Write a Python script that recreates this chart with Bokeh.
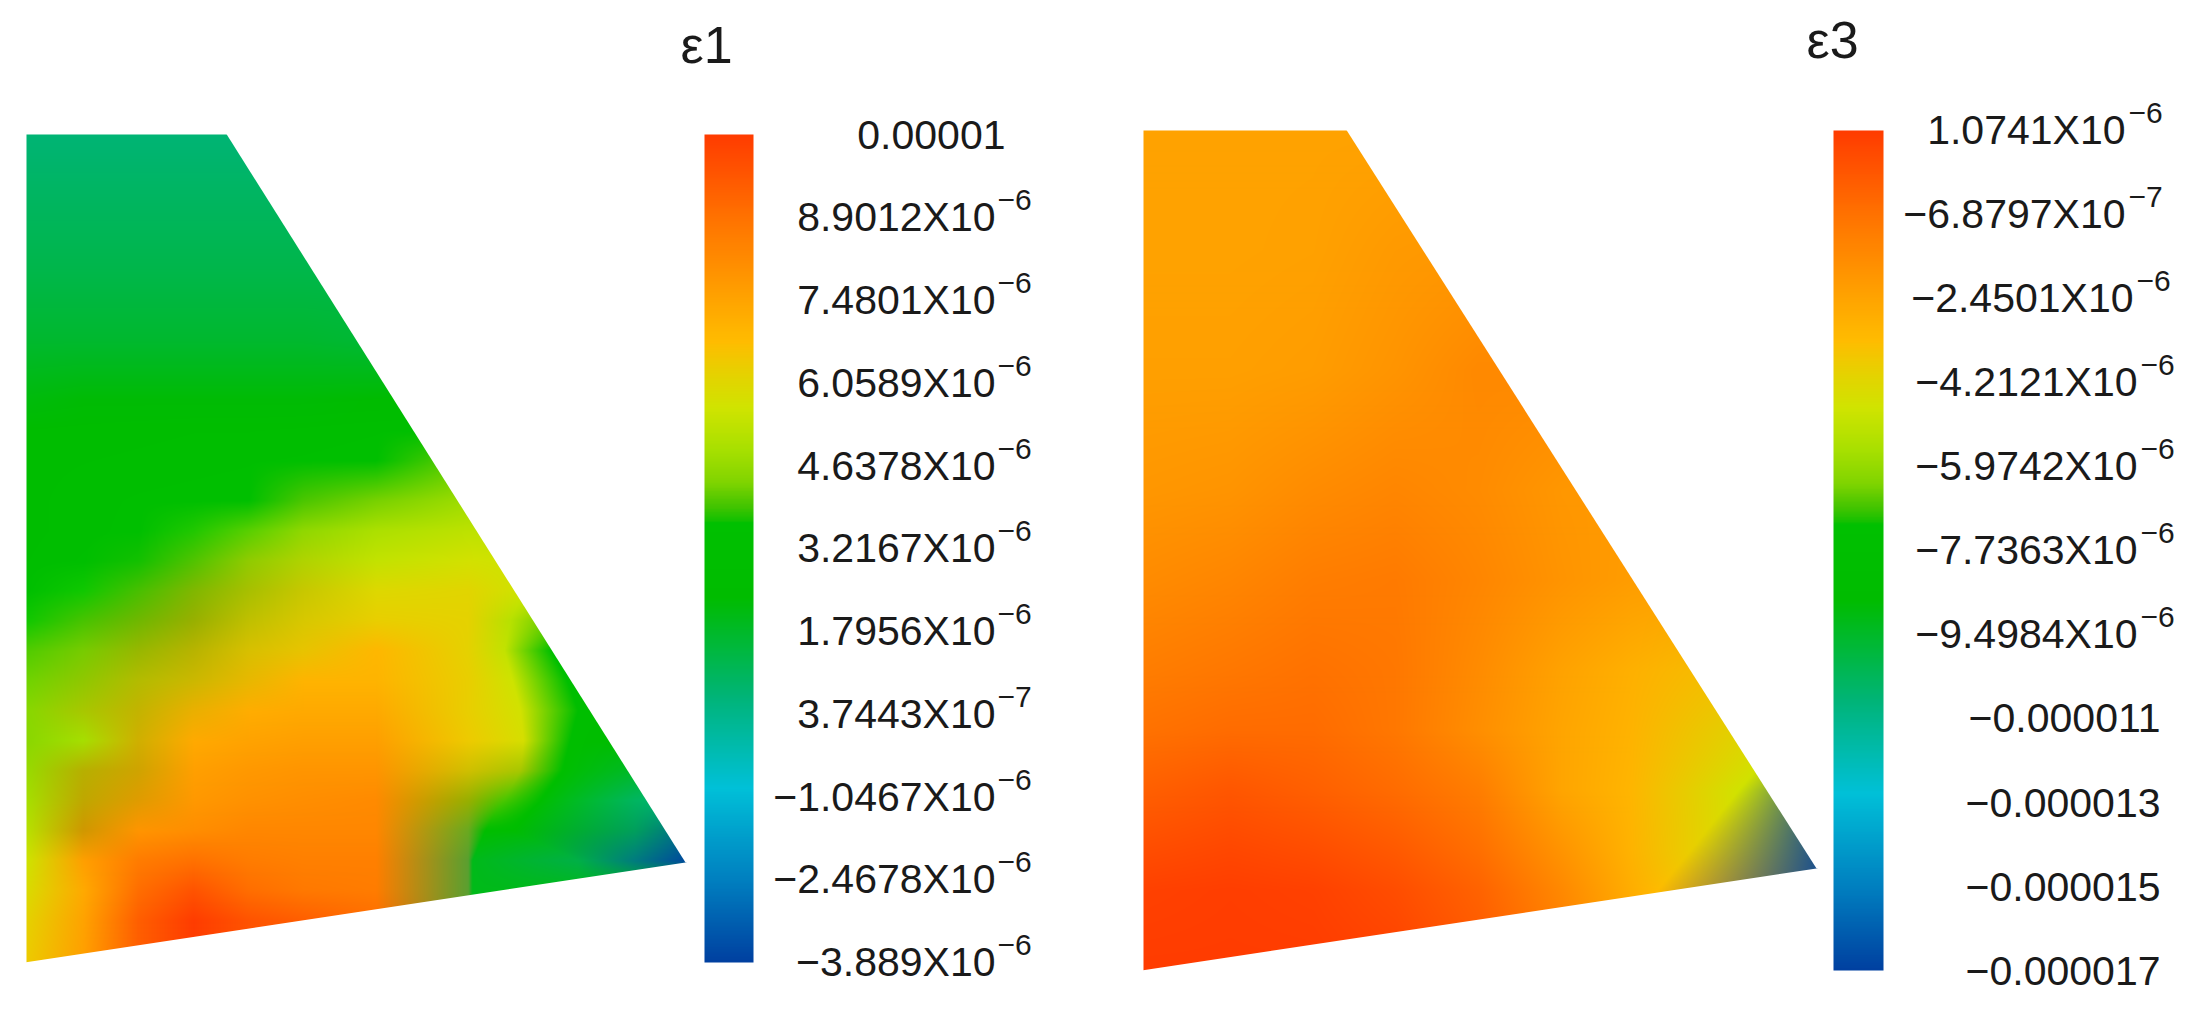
import numpy as np
from bokeh.plotting import figure
from bokeh.models import Range1d, LinearColorMapper
from bokeh.core.properties import value
from bokeh.embed import file_html
from bokeh.resources import INLINE

# ---------- data: strain in units of 1e-6 ----------
E1_TITLE = "\u03b51"
E3_TITLE = "\u03b53"
E1_LABELS = ["0.00001", "8.9012X10", "7.4801X10", "6.0589X10", "4.6378X10", "3.2167X10",
             "1.7956X10", "3.7443X10", "\u22121.0467X10", "\u22122.4678X10", "\u22123.889X10"]
E1_SUPS = ["", "\u22126", "\u22126", "\u22126", "\u22126", "\u22126", "\u22126", "\u22127", "\u22126", "\u22126", "\u22126"]
E3_LABELS = ["1.0741X10", "\u22126.8797X10", "\u22122.4501X10", "\u22124.2121X10", "\u22125.9742X10", "\u22127.7363X10",
             "\u22129.4984X10", "\u22120.000011", "\u22120.000013", "\u22120.000015", "\u22120.000017"]
E3_SUPS = ["\u22126", "\u22127", "\u22126", "\u22126", "\u22126", "\u22126", "\u22126", "", "", "", ""]
E1_RANGE = (-3.889, 10.32)
E3_RANGE = (-16.55, 1.0741)

# colour scale: position from top of the bar (0..1) and colour
CMAP_POS = [0, .10, .20, .25, .285, .33, .38, .42, .45, .467, .468, .56, .68, .79, .90, 1]
CMAP_COL = ["#ff3c00", "#ff7200", "#ffa400", "#ffbc00", "#e8d000", "#d0e400", "#a8e000", "#80d400", "#40c400",
            "#10c000", "#00c000", "#00bc00", "#00b478", "#00c0d8", "#0080c0", "#0040a0"]

# field e1: rows top to bottom, columns left to right
E1_ROW = [134, 200, 270, 340, 400, 430, 460, 500, 530, 560, 590, 620, 650, 680, 710, 740, 770, 800, 830, 860, 890, 920, 962]
E1_COL = [26, 83, 138, 193, 248, 303, 376, 468, 523, 578, 634, 690]
E1_RIDGE = [523, 523, 523, 523, 523, 523, 523, 523, 523, 523, 523, 510, 504, 512, 520, 523, 520, 503, 485, 472, 472, 472, 472]
E1_EDGE = [578, 578, 578, 578, 578, 578, 578, 578, 578, 578, 578, 565, 551, 567, 578, 570, 562, 540, 512, 578, 578, 578, 578]
E1_VAL = [
 [0.7, 0.7, 0.7, 0.7, 0.7, 0.7, 0.7, 0.7, 0.7, 0.7, 0.7, 0.7],
 [1.0, 1.0, 1.0, 1.0, 1.0, 1.0, 1.0, 1.0, 1.0, 1.0, 1.0, 1.0],
 [1.3, 1.3, 1.3, 1.3, 1.3, 1.3, 1.3, 1.3, 1.3, 1.3, 1.3, 1.3],
 [1.7, 1.7, 1.7, 1.7, 1.7, 1.7, 1.6, 1.6, 1.6, 1.6, 1.6, 1.6],
 [2.2, 2.3, 2.3, 2.3, 2.3, 2.3, 2.4, 2.6, 2.6, 2.6, 2.6, 2.6],
 [2.7, 2.8, 2.9, 3.0, 3.0, 3.1, 3.3, 3.5, 3.5, 3.5, 3.5, 3.5],
 [2.9, 3.0, 3.1, 3.2, 3.3, 3.4, 3.6, 4.2, 4.2, 4.2, 4.2, 4.2],
 [2.9, 3.2, 3.4, 3.5, 3.6, 4.0, 4.3, 4.8, 4.8, 4.8, 4.8, 4.8],
 [2.9, 3.2, 3.5, 3.7, 4.1, 4.5, 5.0, 5.3, 5.3, 5.3, 5.3, 5.3],
 [3.0, 3.4, 3.7, 4.1, 4.6, 4.9, 5.4, 5.7, 5.6, 5.6, 5.6, 5.6],
 [3.4, 3.7, 4.0, 4.4, 4.9, 5.5, 6.0, 6.1, 5.6, 5.4, 5.4, 5.4],
 [3.5, 3.9, 4.2, 4.7, 5.4, 6.0, 6.3, 6.2, 5.2, 4.0, 4.0, 4.0],
 [3.9, 4.1, 4.5, 5.2, 6.2, 6.4, 6.9, 6.2, 5.4, 3.4, 3.3, 3.2],
 [4.1, 4.4, 5.0, 5.6, 6.6, 7.0, 7.0, 6.3, 5.6, 3.4, 3.0, 3.0],
 [4.3, 4.7, 5.3, 6.8, 7.2, 7.3, 7.3, 6.3, 5.7, 3.2, 2.8, 2.0],
 [4.5, 4.9, 5.7, 7.3, 7.5, 7.6, 7.6, 6.4, 5.8, 3.2, 2.4, 1.5],
 [4.7, 5.0, 5.8, 7.6, 7.8, 7.9, 7.9, 5.6, 4.7, 3.4, 1.8, 1.0],
 [4.9, 5.4, 7.0, 7.8, 8.0, 8.1, 8.2, 4.2, 4.0, 3.4, 1.0, 0.5],
 [5.2, 6.5, 7.9, 8.1, 8.3, 8.3, 8.3, 3.3, 3.0, 3.0, 0.6, -3.9],
 [5.6, 7.6, 8.6, 8.9, 8.6, 8.5, 8.5, 2.0, 2.0, 1.0, 0.4, -3.9],
 [5.9, 7.3, 9.0, 9.7, 9.0, 8.7, 8.6, 2.0, 2.0, 2.0, 2.0, 2.0],
 [6.2, 7.5, 9.4, 10.3, 9.7, 9.4, 9.0, 2.0, 2.0, 2.0, 2.0, 2.0],
 [6.4, 7.6, 9.4, 10.3, 9.7, 9.4, 9.0, 2.0, 2.0, 2.0, 2.0, 2.0],
]
# nodes whose colour in the picture is a muddy mix that lies off the colour scale: (row y, column index, colour)
E1_MIXED = [
 (530, 3, "#20c800"), (530, 4, "#58d000"), (530, 5, "#90d800"),
 (560, 3, "#50c400"), (560, 4, "#90cc00"), (560, 5, "#b0d400"),
 (590, 1, "#10c800"), (590, 2, "#48c000"), (590, 3, "#80b800"), (590, 4, "#a8c000"), (590, 5, "#c8c800"),
 (620, 0, "#10c800"), (620, 1, "#48c400"), (620, 2, "#70b800"), (620, 3, "#98b000"), (620, 4, "#c0c000"), (620, 5, "#d8c800"),
 (650, 0, "#50cc00"), (650, 1, "#78cc00"), (650, 2, "#98b800"), (650, 3, "#b8b400"), (650, 4, "#d8c000"), (650, 5, "#e8c400"),
 (680, 0, "#70d400"), (680, 1, "#90c800"), (680, 2, "#b4bc00"), (680, 3, "#ccb800"), (680, 4, "#e8b800"),
 (710, 0, "#88d800"), (710, 1, "#a8c800"), (710, 2, "#c4b400"), (710, 3, "#eab000"),
 (740, 2, "#d0b000"),
 (770, 1, "#b8b000"), (770, 2, "#d0a400"), (770, 7, "#d0c000"), (770, 8, "#a8c800"),
 (800, 1, "#c0a800"), (800, 2, "#e09c00"), (800, 7, "#98b000"),
 (830, 1, "#d09800"), (830, 7, "#6aaa20"), (830, 10, "#00a05c"), (830, 11, "#006a90"),
 (860, 7, "#5aa030"), (860, 9, "#00b048"), (860, 10, "#007c80"), (860, 11, "#0045a0"),
 (890, 7, "#5aa030"), (920, 7, "#5aa030"), (962, 7, "#5aa030"),
]

# field e3
E3_ROW = [130, 250, 370, 490, 580, 670, 730, 790, 850, 890, 970]
E3_COL = [1143, 1230, 1313, 1395, 1478, 1561, 1630, 1726, 1836]
E3_KINK = [1781, 1781, 1781, 1781, 1781, 1815, 1788, 1738, 1690, 1657, 1726]
E3_VAL = [
 [-2.4, -2.4, -2.4, -2.4, -2.4, -2.4, -2.4, -2.4, -2.4],
 [-2.4, -2.4, -2.35, -2.1, -2.0, -2.0, -2.0, -2.0, -2.0],
 [-2.3, -2.3, -2.2, -1.9, -1.5, -1.5, -1.5, -1.5, -1.5],
 [-2.0, -1.9, -1.6, -1.4, -1.6, -2.0, -2.1, -2.1, -2.1],
 [-1.6, -1.4, -1.1, -1.0, -1.4, -1.9, -2.2, -2.4, -2.4],
 [-1.1, -0.9, -0.7, -0.9, -1.6, -2.4, -2.9, -3.9, -3.9],
 [-0.7, -0.5, -0.5, -0.9, -1.7, -2.5, -3.0, -4.6, -6.0],
 [-0.1, 0.2, -0.1, -0.5, -1.1, -2.5, -3.1, -4.7, -16.5],
 [0.5, 0.7, 0.5, 0.1, -0.6, -1.9, -3.0, -3.9, -16.5],
 [0.9, 1.0, 0.9, 0.5, -0.2, -1.5, -2.8, -3.3, -16.5],
 [1.07, 1.07, 1.07, 0.9, 0.2, -1.0, -2.4, -3.0, -16.5],
]

# ---------- helpers ----------
H = 996
def py(y):
    return H - np.asarray(y, dtype=float)

def rgb(c):
    return [int(c[i:i + 2], 16) for i in (1, 3, 5)]

CM = np.array([rgb(c) for c in CMAP_COL], dtype=float)

def colours(vals, rng):
    low, high = rng
    f = (high - np.asarray(vals, dtype=float)) / (high - low)
    return np.stack([np.interp(f, CMAP_POS, CM[:, k]) for k in range(3)], axis=-1)

def raster(rows, col_x, node, x0, x1, y0, y1):
    """Paint the read node colours across the mesh, mixing in RGB as the source did."""
    rows = np.asarray(rows, dtype=float)
    col_x = np.asarray(col_x, dtype=float)
    xs = np.arange(x0, x1) + .5
    img = np.zeros((y1 - y0, x1 - x0), dtype=np.uint32)
    view = img.view(dtype=np.uint8).reshape((y1 - y0, x1 - x0, 4))
    for j, y in enumerate(np.arange(y0, y1) + .5):
        i = int(np.clip(np.searchsorted(rows, y) - 1, 0, len(rows) - 2))
        t = np.clip((y - rows[i]) / (rows[i + 1] - rows[i]), 0, 1)
        cx = col_x[i] * (1 - t) + col_x[i + 1] * t
        cc = node[i] * (1 - t) + node[i + 1] * t
        for k in range(3):
            view[y1 - y0 - 1 - j, :, k] = np.interp(xs, cx, cc[:, k])
        view[y1 - y0 - 1 - j, :, 3] = 255
    return img

p = figure(width=2178, height=H, output_backend="svg", toolbar_location=None,
           x_range=Range1d(0, 2178), y_range=Range1d(0, H),
           x_axis_type=None, y_axis_type=None, min_border=0)
p.grid.visible = False
p.outline_line_color = None
p.background_fill_color = "white"
p.border_fill_color = "white"

def field(rows, col_x, node, tl, tr, tip, bl):
    x0, x1 = tl[0], tip[0] + 1
    y0, y1 = tl[1], bl[1] + 1
    img = raster(rows, col_x, node, x0, x1, y0, y1)
    p.image_rgba(image=[img], x=x0, y=float(py(y1)), dw=x1 - x0, dh=y1 - y0)
    # white masks outside the outline give a clean slanted edge
    p.patch([tr[0], x1 + 2, x1 + 2, tip[0]], py([tl[1] - 2, tl[1] - 2, tip[1], tip[1]]),
            fill_color="white", line_color=None)
    p.patch([bl[0] - 2, tip[0], x1 + 2, x1 + 2, bl[0] - 2], py([bl[1], tip[1], tip[1], bl[1] + 3, bl[1] + 3]),
            fill_color="white", line_color=None)

e1_nodes = colours(E1_VAL, E1_RANGE)
for row_y, col, c in E1_MIXED:
    e1_nodes[E1_ROW.index(row_y), col] = rgb(c)
e1_cols = [[*E1_COL[:8], r, e, *E1_COL[10:]] for r, e in zip(E1_RIDGE, E1_EDGE)]
field(E1_ROW, e1_cols, e1_nodes, (26, 134), (225, 134), (685, 862), (26, 962))
e3_cols = [[*E3_COL[:7], k, E3_COL[8]] for k in E3_KINK]
field(E3_ROW, e3_cols, colours(E3_VAL, E3_RANGE), (1143, 130), (1345, 130), (1816, 868), (1143, 970))

def bar(rng, x0, x1, y0, y1):
    n = 512
    f = np.linspace(0, 1, n)
    pal = ["#%02x%02x%02x" % tuple(int(round(np.interp(u, CMAP_POS, CM[:, k]))) for k in range(3)) for u in f]
    low, high = rng
    mapper = LinearColorMapper(palette=pal[::-1], low=low, high=high)
    col = np.linspace(low, high, n).reshape(-1, 1)
    p.image(image=[col], x=x0, y=float(py(y1)), dw=x1 - x0, dh=y1 - y0, color_mapper=mapper)

bar(E1_RANGE, 704, 753, 134, 962)
bar(E3_RANGE, 1833, 1883, 130, 970)

FONT = value("Liberation Sans")
def txt(x, y, s, size, align="left"):
    # y is the text's baseline in the picture; the glyph is placed by its vertical middle
    p.text([x], [float(py(y - .36 * size))], text=[s], text_font=FONT, text_font_size=f"{size}px", text_color="#1a1a1a",
           text_align=align, text_baseline="middle")

txt(680, 63, E1_TITLE, 52)
txt(1806, 58, E3_TITLE, 52)

# scale labels: mantissa and raised exponent
for i, (m, s) in enumerate(zip(E1_LABELS, E1_SUPS)):
    y = 149 + 82.75 * i
    if not s:
        txt(1005, y, m, 41, "right")
    else:
        txt(995, y, m, 41, "right")
        txt(997, y - 21, s, 30)

E3_END = [2125, 2125, 2133, 2137, 2137, 2137, 2137, 2160, 2160, 2160, 2160]
for i, (m, s, e) in enumerate(zip(E3_LABELS, E3_SUPS, E3_END)):
    y = 144 + 84.1 * i
    txt(e, y, m, 41, "right")
    if s:
        txt(e + 3, y - 21, s, 30)

open("out.html", "w").write(file_html(p, INLINE))
